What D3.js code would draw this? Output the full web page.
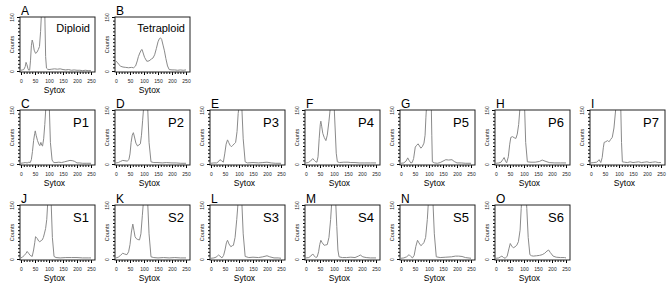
<!DOCTYPE html>
<html>
<head>
<meta charset="utf-8">
<script src="https://cdn.jsdelivr.net/npm/d3@7"></script>
<style>
    body { margin: 0; background: #fff; }
    svg { display: block; font-family: "Liberation Sans", Arial, sans-serif; }
</style>
</head>
<body>
<svg id="chart" width="669" height="286"></svg>
<script>
// histogram traces, [sytox, counts]; peaks run off the top of the 0-150 scale
var diploid = [[0,2],[5,3],[10,4],[15,12],[18,24],[21,18],[25,6],[28,2],[31,3],[34,30],[37,70],[40,86],[43,78],[47,58],[52,49],[57,52],[62,60],[66,68],[70,110],[73,160],[80,200],[85,160],[88,40],[91,8],[95,5],[100,4],[110,5],[120,6],[130,5],[140,6],[150,4],[160,3],[170,4],[180,2],[190,3],[200,2],[210,2],[220,1],[230,2],[240,1],[250,1]];
var tetraploid = [[0,27],[5,24],[10,18],[17,13],[25,11],[35,10],[45,9],[55,10],[63,9],[70,14],[76,28],[80,40],[85,50],[90,58],[93,60],[97,50],[102,38],[110,27],[118,28],[126,33],[132,36],[138,45],[144,62],[150,81],[155,90],[159,92],[163,88],[168,72],[173,56],[178,35],[184,14],[190,4],[200,3],[210,3],[220,2],[230,3],[240,2],[250,3]];
var p1 = [[0,2],[8,3],[15,4],[22,3],[28,5],[33,4],[37,12],[41,35],[45,65],[49,85],[51,92],[54,80],[59,65],[64,55],[67,51],[71,60],[74,52],[77,50],[81,70],[85,110],[89,160],[95,200],[101,160],[105,60],[111,11],[117,4],[125,4],[135,5],[145,4],[155,6],[165,8],[175,10],[185,9],[192,7],[200,3],[210,3],[220,2],[235,2],[250,2]];
var p2 = [[0,3],[8,4],[16,7],[24,10],[32,9],[40,8],[46,12],[50,28],[54,60],[58,80],[62,87],[66,75],[71,58],[77,50],[82,53],[87,56],[91,80],[95,120],[99,160],[106,200],[113,160],[118,60],[125,6],[135,4],[150,4],[165,3],[180,4],[200,3],[215,3],[230,2],[250,2]];
var p3 = [[0,2],[10,3],[20,3],[26,6],[32,12],[38,9],[44,5],[49,28],[54,55],[59,67],[63,60],[68,52],[73,48],[78,52],[83,56],[88,60],[93,90],[97,140],[100,160],[105,200],[110,160],[115,70],[122,6],[130,3],[150,4],[170,3],[185,4],[200,5],[215,3],[230,2],[250,2]];
var p4 = [[0,3],[8,4],[16,8],[24,15],[30,10],[35,6],[39,5],[43,20],[47,70],[51,110],[53,119],[56,105],[60,85],[65,74],[71,65],[76,80],[82,119],[86,150],[88,170],[94,200],[100,170],[104,100],[108,30],[112,6],[120,4],[135,5],[150,5],[160,4],[175,4],[190,3],[210,3],[230,3],[250,3]];
var p5 = [[0,2],[10,3],[18,8],[24,17],[29,10],[35,3],[40,4],[45,15],[51,47],[56,52],[61,56],[66,50],[71,44],[76,48],[82,58],[86,80],[89,130],[92,170],[100,210],[108,170],[110,80],[112,6],[120,3],[130,2],[140,4],[150,8],[160,12],[170,11],[182,12],[190,7],[200,3],[215,3],[230,2],[250,2]];
var p6 = [[0,2],[10,3],[18,5],[24,12],[29,18],[34,8],[38,3],[44,20],[49,55],[53,74],[59,76],[65,73],[71,71],[76,83],[81,110],[86,160],[94,210],[102,160],[106,60],[112,6],[125,5],[140,5],[155,7],[165,11],[175,8],[190,4],[210,3],[230,3],[250,3]];
var p7 = [[0,3],[10,4],[20,5],[26,9],[29,12],[32,8],[35,4],[40,18],[44,45],[47,60],[53,62],[59,65],[62,63],[65,62],[70,68],[76,74],[82,100],[88,150],[92,170],[99,210],[106,170],[109,60],[112,6],[120,5],[130,4],[140,6],[150,4],[160,5],[170,6],[180,4],[190,5],[200,6],[210,4],[220,5],[230,6],[240,4],[250,4]];
var s1 = [[0,3],[6,6],[12,10],[18,16],[22,21],[27,16],[33,10],[40,7],[45,25],[49,45],[52,62],[55,60],[58,57],[63,50],[67,48],[72,51],[76,53],[80,60],[84,72],[88,85],[92,110],[95,150],[103,210],[108,150],[112,60],[118,7],[125,4],[140,3],[160,4],[180,4],[200,4],[220,3],[240,3],[250,3]];
var s2 = [[0,3],[8,5],[16,10],[24,16],[30,14],[39,12],[45,20],[50,40],[55,75],[60,97],[64,80],[68,62],[72,57],[78,54],[84,53],[89,70],[94,120],[98,160],[107,210],[113,160],[118,70],[125,6],[135,4],[150,3],[170,4],[190,3],[210,4],[230,3],[250,3]];
var s3 = [[0,2],[10,3],[18,5],[24,9],[27,11],[32,8],[39,3],[45,10],[50,25],[55,45],[59,52],[64,42],[71,34],[76,37],[80,38],[86,60],[92,110],[97,160],[104,210],[110,160],[115,70],[122,7],[135,4],[150,5],[170,4],[185,6],[200,9],[210,6],[225,3],[240,3],[250,2]];
var s4 = [[0,3],[10,4],[17,8],[24,14],[29,9],[35,4],[40,6],[45,20],[49,40],[53,52],[58,45],[65,38],[70,39],[76,40],[82,60],[88,110],[92,160],[100,210],[106,160],[110,90],[114,25],[118,6],[130,4],[145,4],[160,5],[175,4],[187,8],[194,11],[203,6],[215,4],[230,3],[250,3]];
var s5 = [[0,2],[10,3],[20,6],[26,10],[29,12],[35,7],[41,3],[47,10],[53,35],[59,52],[64,45],[71,37],[77,41],[82,46],[88,60],[94,110],[98,160],[107,210],[114,160],[119,70],[126,6],[140,4],[160,5],[180,6],[194,8],[206,8],[218,7],[230,4],[250,2]];
var s6 = [[0,2],[10,3],[16,6],[21,8],[27,4],[33,2],[40,8],[46,28],[51,43],[56,36],[62,31],[68,34],[74,38],[80,48],[86,80],[90,140],[93,180],[100,210],[107,180],[110,140],[115,60],[121,12],[127,9],[133,8],[145,9],[155,10],[165,12],[174,16],[182,22],[188,25],[194,18],[204,8],[215,5],[230,4],[245,4],[250,3]];

var letters = ["A", "B", "C", "D", "E", "F", "G", "H", "I", "J", "K", "L", "M", "N", "O"];
var sampleNames = ["Diploid", "Tetraploid", "P1", "P2", "P3", "P4", "P5", "P6", "P7", "S1", "S2", "S3", "S4", "S5", "S6"];
var traces = [diploid, tetraploid, p1, p2, p3, p4, p5, p6, p7, s1, s2, s3, s4, s5, s6];

var xTicks = [0, 50, 100, 150, 200, 250];
var yTicks = [0, 150];

// grid placement: [row, column]
var grid = [[0,0],[0,1],[1,0],[1,1],[1,2],[1,3],[1,4],[1,5],[1,6],[2,0],[2,1],[2,2],[2,3],[2,4],[2,5]];

function build_panels() {
    const BOX_W = 75;
    const BOX_H = 55;
    const ROW_TOP = [17, 110, 205];

    var svg = d3.select("svg#chart");

    var xscale = d3.scaleLinear().domain([0, 250]).range([1, 71]);
    var yscale = d3.scaleLinear().domain([0, 150]).range([BOX_H - 1, 0]);

    svg.append("defs").append("clipPath")
        .attr("id", "box_clip")
        .append("rect")
        .attr("width", BOX_W)
        .attr("height", BOX_H);

    traces.forEach(function(trace, i) {
        var left = 20 + 95 * grid[i][1];
        var top = ROW_TOP[grid[i][0]];
        var g = svg.append("g").attr("transform", "translate(" + left + "," + top + ")");

        // minor ticks every 10
        g.append("g")
            .attr("transform", "translate(0," + BOX_H + ")")
            .call(d3.axisBottom(xscale).tickValues(d3.range(0, 251, 10)).tickSize(2).tickFormat(""))
            .call(a => a.select(".domain").remove());
        g.append("g")
            .call(d3.axisLeft(yscale).tickValues(d3.range(0, 151, 10)).tickSize(2).tickFormat(""))
            .call(a => a.select(".domain").remove());

        // labelled ticks
        g.append("g")
            .attr("transform", "translate(0," + BOX_H + ")")
            .call(d3.axisBottom(xscale).tickValues(xTicks).tickSize(3).tickPadding(4))
            .call(a => a.select(".domain").remove())
            .call(a => a.selectAll("text").attr("font-size", 5).attr("font-family", null).attr("fill", "#222"));
        g.append("g")
            .call(d3.axisLeft(yscale).tickValues(yTicks).tickSize(3))
            .call(a => a.select(".domain").remove())
            .call(a => a.selectAll("text")
                .attr("transform", "rotate(-90)")
                .attr("x", 0).attr("y", -6).attr("dy", 0)
                .attr("text-anchor", "middle")
                .attr("font-size", 5).attr("font-family", null).attr("fill", "#222"));

        g.append("path")
            .datum(trace)
            .attr("clip-path", "url(#box_clip)")
            .attr("fill", "none")
            .attr("stroke", "#8a8a8a")
            .attr("stroke-width", 1)
            .attr("d", d3.line()
                .x(d => xscale(d[0]))
                .y(d => yscale(d[1])));

        g.append("rect")
            .attr("width", BOX_W)
            .attr("height", BOX_H)
            .attr("fill", "none")
            .attr("stroke", "#222")
            .attr("stroke-width", 1);

        g.append("text")
            .attr("transform", "translate(-6," + (BOX_H / 2) + ") rotate(-90)")
            .attr("text-anchor", "middle")
            .attr("font-size", 5.5)
            .attr("fill", "#222")
            .text("Counts");

        g.append("text")
            .attr("x", BOX_W / 2 - 3)
            .attr("y", BOX_H + 21)
            .attr("text-anchor", "middle")
            .attr("font-size", 8.5)
            .text("Sytox");

        g.append("text")
            .attr("x", 1)
            .attr("y", -2)
            .attr("font-size", 12)
            .text(letters[i]);

        var name = sampleNames[i];
        g.append("text")
            .attr("x", BOX_W - (name.length > 2 ? 5 : 6))
            .attr("y", name.length > 2 ? 15 : 17)
            .attr("text-anchor", "end")
            .attr("font-size", name.length > 2 ? 11 : 13)
            .text(name);
    });
}

build_panels();
</script>
</body>
</html>
